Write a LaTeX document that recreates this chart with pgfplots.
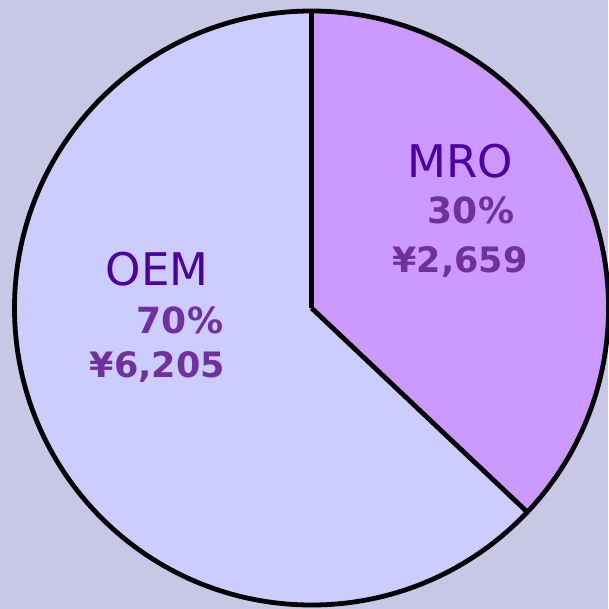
\documentclass[border=0pt]{standalone}
\usepackage{pgfplots}
\pgfplotsset{compat=1.18}
\usepackage{pgfplotstable}
\usepackage{fontspec}
\setmainfont{DejaVu Sans}
\definecolor{bgc}{RGB}{200,200,230}
\definecolor{mroc}{RGB}{204,153,255}
\definecolor{oemc}{RGB}{204,204,255}
\definecolor{namec}{RGB}{76,0,160}
\definecolor{numc}{RGB}{112,48,160}
% slice data: name, value, share, start angle, end angle (as drawn)
\pgfplotstableread{
name value pct start end
MRO 2659 30 90 -43.4
OEM 6205 70 -43.4 -270
}\piedata
\begin{document}
\begin{tikzpicture}
\fill[bgc] (0,0) rectangle (608pt,609pt);
\begin{axis}[
  at={(0,0)}, anchor=south west,
  width=608pt, height=609pt, scale only axis,
  xmin=0, xmax=608, ymin=0, ymax=609, y dir=reverse,
  hide axis, clip=false,
]
\pgfplotstablegetelem{0}{start}\of\piedata\edef\sA{\pgfplotsretval}
\pgfplotstablegetelem{0}{end}\of\piedata\edef\eA{\pgfplotsretval}
\pgfplotstablegetelem{1}{end}\of\piedata\edef\eB{\pgfplotsretval}
\fill[oemc] (axis cs:311.5,308) -- ++(\eA:297pt) arc[start angle=\eA, end angle=\eB, radius=297pt] -- cycle;
\fill[mroc] (axis cs:311.5,308) -- ++(\sA:297pt) arc[start angle=\sA, end angle=\eA, radius=297pt] -- cycle;
\draw[black, line width=4.8pt] (axis cs:311.5,308) -- ++(\sA:297pt);
\draw[black, line width=4.8pt] (axis cs:311.5,308) -- ++(\eA:297pt);
\draw[black, line width=4.8pt] (axis cs:311.5,308) circle[radius=297pt];
\node[anchor=base, text=namec, font=\fontsize{45}{50}\selectfont] at (axis cs:460,178) {MRO};
\node[anchor=base, text=numc, font=\fontsize{36}{40}\selectfont\bfseries] at (axis cs:471,223) {30\%};
\node[anchor=base, text=numc, font=\fontsize{35}{40}\selectfont\bfseries] at (axis cs:460,272) {¥2,659};
\node[anchor=base, text=namec, font=\fontsize{45}{50}\selectfont] at (axis cs:157,285) {OEM};
\node[anchor=base, text=numc, font=\fontsize{36}{40}\selectfont\bfseries] at (axis cs:180,333) {70\%};
\node[anchor=base, text=numc, font=\fontsize{35}{40}\selectfont\bfseries] at (axis cs:157.5,377) {¥6,205};
\end{axis}
\pgfresetboundingbox
\path[use as bounding box] (0,0) rectangle (608pt,609pt);
\end{tikzpicture}
\end{document}
